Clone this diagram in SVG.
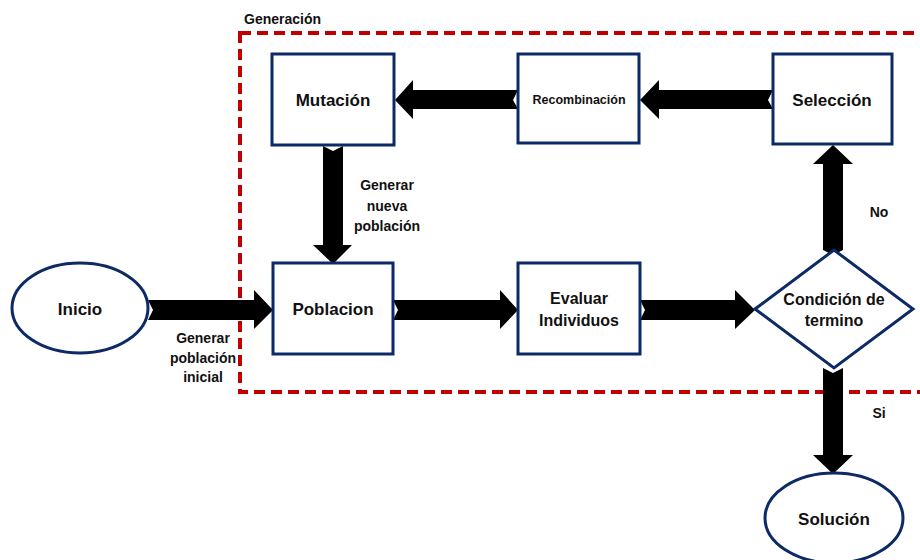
<svg xmlns="http://www.w3.org/2000/svg" width="920" height="560" viewBox="0 0 920 560">
<style>
.node{fill:#fff;stroke:#0b2a66;stroke-width:3}
.t{font-family:"Liberation Sans",Arial,sans-serif;font-weight:bold;fill:#111;text-anchor:middle}
.arr{fill:#000}
.lbl{font-family:"Liberation Sans",Arial,sans-serif;font-weight:bold;fill:#111;font-size:14px;text-anchor:middle}
</style>
<rect width="920" height="560" fill="#fff"/>
<g id="generacion">
<rect x="240" y="33" width="700" height="359" fill="none" stroke="#c00000" stroke-width="4" stroke-dasharray="11,6"/>
<text x="244" y="24" class="lbl" style="text-anchor:start">Generación</text>
</g>
<g id="connectors">
<polygon class="arr" points="148,300 254,300 254,290 273,310 254,329 254,320 148,320 153,310"/>
<polygon class="arr" points="393,300 500,300 500,290 518,310 500,329 500,320 393,320 398,310"/>
<polygon class="arr" points="640,300 735,300 735,290 755,310 735,329 735,320 640,320 645,310"/>
<polygon class="arr" points="823,250 823,164 813,164 833,145 853,164 843,164 843,250 833,255"/>
<polygon class="arr" points="773,90 659,90 659,80 640,100 659,119 659,109 773,109 768,100"/>
<polygon class="arr" points="518,90 413,90 413,80 395,100 413,119 413,109 518,109 513,100"/>
<polygon class="arr" points="323,146 323,245 313,245 333,264 352,245 343,245 343,146 333,151"/>
<polygon class="arr" points="823,368 823,455 813,455 833,474 853,455 843,455 843,368 833,373"/>
<text class="lbl" x="203" y="343">Generar</text>
<text class="lbl" x="203" y="363">población</text>
<text class="lbl" x="203" y="382">inicial</text>
<text class="lbl" x="387" y="190">Generar</text>
<text class="lbl" x="387" y="211">nueva</text>
<text class="lbl" x="387" y="231">población</text>
<text class="lbl" x="879" y="217">No</text>
<text class="lbl" x="879" y="418">Si</text>
</g>
<g id="inicio">
<ellipse class="node" cx="80" cy="308" rx="68" ry="45"/>
<text class="t" x="80" y="315" font-size="17">Inicio</text>
</g>
<g id="poblacion">
<rect class="node" x="273" y="263" width="120" height="91"/>
<text class="t" x="333" y="315" font-size="17">Poblacion</text>
</g>
<g id="evaluar">
<rect class="node" x="518" y="263" width="122" height="91"/>
<text class="t" x="579" y="304" font-size="16">Evaluar</text>
<text class="t" x="579" y="326" font-size="16">Individuos</text>
</g>
<g id="condicion">
<polygon class="node" points="755,309 834,250 913,309 834,368"/>
<text class="t" x="834" y="305" font-size="16">Condición de</text>
<text class="t" x="834" y="326" font-size="16">termino</text>
</g>
<g id="seleccion">
<rect class="node" x="773" y="54" width="119" height="90"/>
<text class="t" x="832" y="106" font-size="17">Selección</text>
</g>
<g id="recombinacion">
<rect class="node" x="518" y="54" width="121" height="89"/>
<text class="t" x="579" y="104" font-size="12.5">Recombinación</text>
</g>
<g id="mutacion">
<rect class="node" x="272" y="54" width="122" height="91"/>
<text class="t" x="333" y="106" font-size="17">Mutación</text>
</g>
<g id="solucion">
<ellipse class="node" cx="834" cy="518" rx="69" ry="45"/>
<text class="t" x="834" y="525" font-size="17">Solución</text>
</g>
</svg>
